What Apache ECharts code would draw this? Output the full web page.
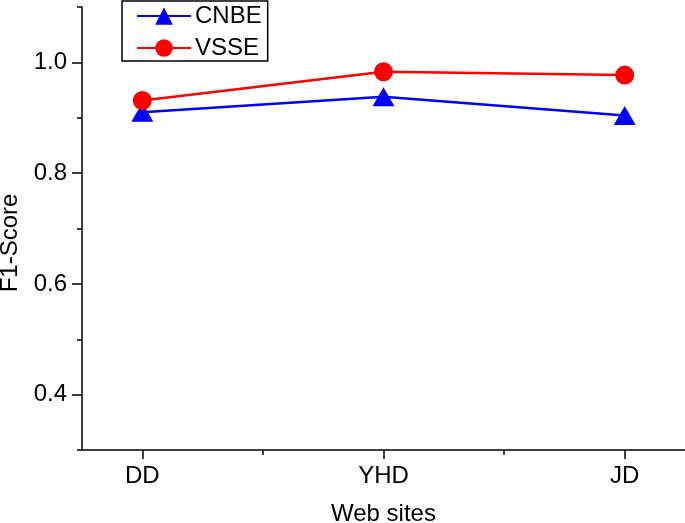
<!DOCTYPE html>
<html>
<head>
<meta charset="utf-8">
<script src="https://cdn.jsdelivr.net/npm/echarts@6/dist/echarts.min.js"></script>
<style>html,body{margin:0;padding:0;background:#fff}#c{width:685px;height:523px}</style>
</head>
<body>
<div id="c"></div>
<script>
var categories = ['DD', 'YHD', 'JD'];
var categoryPos = [1, 2, 3];
var cnbe = [0.910, 0.938, 0.904];
var vsse = [0.931, 0.983, 0.977];
var yMajorTicks = [0.4, 0.6, 0.8, 1.0];
var yMinorTicks = [0.3, 0.5, 0.7, 0.9, 1.1];
var xMinorTicks = [1.5, 2.5];

var FONT = '"Liberation Sans", Arial, sans-serif';
var FS = 24;
function pairs(vals){ return vals.map(function(v,i){ return [categoryPos[i], v]; }); }

var chart = echarts.init(document.getElementById('c'));
chart.setOption({
  animation: false,
  backgroundColor: '#fff',
  grid: { left: 82, right: 0, top: 7, bottom: 73, containLabel: false, outerBoundsMode: 'none' },
  legend: {
    orient: 'vertical', left: 122, top: 1,
    borderColor: '#000', borderWidth: 1.5, padding: [3, 6, 1, 14],
    itemWidth: 54, itemHeight: 22, itemGap: 8,
    textStyle: { fontFamily: FONT, fontSize: FS, color: '#000', padding: [0,0,0,-1] },
    data: ['CNBE', 'VSSE']
  },
  xAxis: [{
    type: 'value', min: 0.75, max: 3.25,
    name: 'Web sites', nameLocation: 'middle', nameGap: 52,
    nameTextStyle: { fontFamily: FONT, fontSize: FS, color: '#000' },
    axisLine: { lineStyle: { color: '#000', width: 1.5 } },
    axisTick: { show: true, customValues: categoryPos, length: 9, lineStyle: { color: '#000', width: 1.5 } },
    axisLabel: { customValues: categoryPos, margin: 14, fontFamily: FONT, fontSize: FS, color: '#000',
      formatter: function(v){ var i = categoryPos.indexOf(Math.round(v)); return i >= 0 ? categories[i] : ''; } },
    splitLine: { show: false }
  }, {
    type: 'value', min: 0.75, max: 3.25, position: 'bottom',
    axisLine: { show: false },
    axisTick: { show: true, customValues: xMinorTicks, length: 5, lineStyle: { color: '#000', width: 1.5 } },
    axisLabel: { show: false },
    splitLine: { show: false }
  }],
  yAxis: [{
    type: 'value', min: 0.3, max: 1.1,
    axisLine: { show: true, lineStyle: { color: '#000', width: 1.5 } },
    axisTick: { show: true, customValues: yMajorTicks, length: 10, lineStyle: { color: '#000', width: 1.5 } },
    axisLabel: { customValues: yMajorTicks, margin: 15, fontFamily: FONT, fontSize: FS, color: '#000',
      formatter: function(v){ return v.toFixed(1); } },
    splitLine: { show: false }
  }, {
    type: 'value', min: 0.3, max: 1.1, position: 'left',
    axisLine: { show: false },
    axisTick: { show: true, customValues: yMinorTicks, length: 5, lineStyle: { color: '#000', width: 1.5 } },
    axisLabel: { show: false },
    splitLine: { show: false }
  }],
  graphic: [{
    type: 'text', x: 10, y: 243, rotation: Math.PI / 2,
    style: { text: 'F1-Score', font: FS + 'px ' + FONT, fill: '#000', textAlign: 'center', textVerticalAlign: 'middle' }
  }],
  series: [{
    name: 'CNBE', type: 'line', data: pairs(cnbe), xAxisIndex: 0, yAxisIndex: 0,
    symbol: 'triangle', symbolSize: [22, 19],
    lineStyle: { color: '#0000ff', width: 2.5 },
    itemStyle: { color: '#0000ff' }
  }, {
    name: 'VSSE', type: 'line', data: pairs(vsse), xAxisIndex: 0, yAxisIndex: 0,
    symbol: 'circle', symbolSize: 19,
    lineStyle: { color: '#ff0000', width: 2.5 },
    itemStyle: { color: '#ff0000' }
  }]
});
</script>
</body>
</html>
